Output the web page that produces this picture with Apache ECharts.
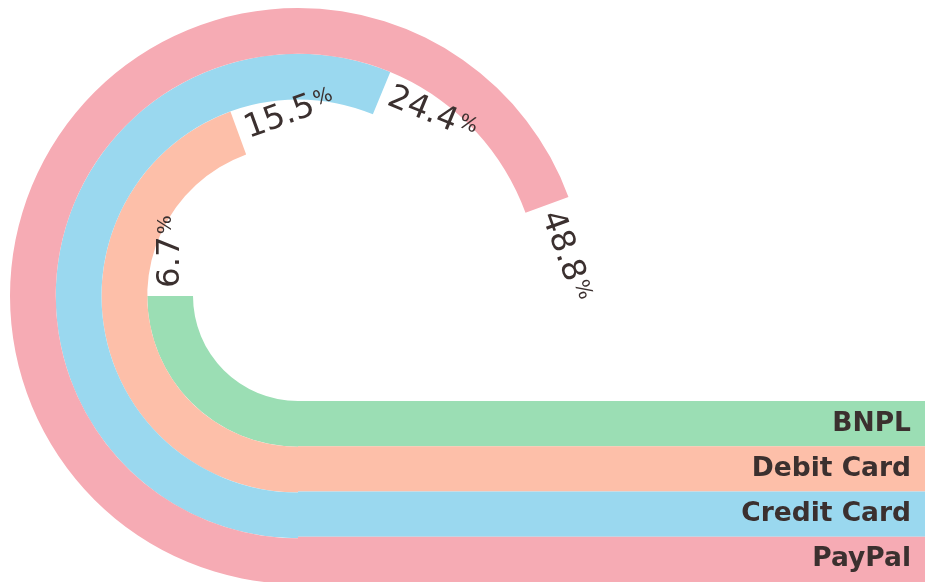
<!DOCTYPE html>
<html><head><meta charset="utf-8">
<script src="https://cdn.jsdelivr.net/npm/echarts@6/dist/echarts.min.js"></script>
<style>html,body{margin:0;padding:0;background:#fff}#c{width:925px;height:582px}</style>
</head><body><div id="c"></div>
<script>
// ---- data ----
const categories = ['BNPL', 'Debit Card', 'Credit Card', 'PayPal'];
const shares = [6.7, 15.5, 24.4, 48.8];
// ---- styling / layout ----
const colors = ['#9bdeb4', '#fdbfa9', '#9ad8ef', '#f6abb4'];
// full-turn value of each ring's angle axis (each ring has its own angular scale in the reference)
const ringTurnMax = [26.8, 34.9, 43.4, 70.3];
const ringRadii = [[105, 150.75], [150.75, 196.5], [196.5, 242.25], [242.25, 288]];
const center = [298, 296];
const textColor = '#3b302f';
const catFont = 'DejaVu Sans';
const valFont = 'DejaVu Sans';

const chart = echarts.init(document.getElementById('c'), null, {renderer: 'canvas'});
const option = {
  animation: false,
  backgroundColor: '#ffffff',
  polar: categories.map((c, i) => ({center: center, radius: ringRadii[i]})),
  radiusAxis: categories.map((c, i) => ({polarIndex: i, type: 'category', data: [c], show: false})),
  angleAxis: categories.map((c, i) => ({
    polarIndex: i, type: 'value', min: 0, max: ringTurnMax[i],
    startAngle: 270, clockwise: true, show: false
  })),
  grid: {left: 298, right: 0, top: 401, height: 183, containLabel: false},
  xAxis: {type: 'value', show: false, min: 0, max: 1},
  yAxis: [
    {
      type: 'category', data: categories, inverse: true, z: 0,
      axisLine: {show: false}, axisTick: {show: false}, axisLabel: {show: false},
      splitLine: {show: false},
      splitArea: {show: true, interval: 0, areaStyle: {color: colors}}
    },
    {
      type: 'category', data: categories, inverse: true, position: 'right', z: 5,
      axisLine: {show: false}, axisTick: {show: false}, splitLine: {show: false},
      axisLabel: {
        inside: true, margin: 14, interval: 0,
        fontSize: 26.5, fontWeight: 'bold', fontFamily: catFont, color: textColor
      }
    }
  ],
  series: categories.map((c, i) => ({
    type: 'bar', coordinateSystem: 'polar', polarIndex: i,
    data: [shares[i]], barCategoryGap: '0%', silent: true,
    itemStyle: {color: colors[i]},
    label: {
      show: true, position: 'end', distance: 8,
      align: 'left', verticalAlign: 'middle',
      formatter: '{v|{c}}{p|%}',
      rich: {
        v: {fontSize: 32.5, fontFamily: valFont, color: textColor},
        p: {fontSize: 20, fontFamily: valFont, color: textColor, padding: [0, 0, 8, 2]}
      }
    }
  }))
};
chart.setOption(option);
</script>
</body></html>
